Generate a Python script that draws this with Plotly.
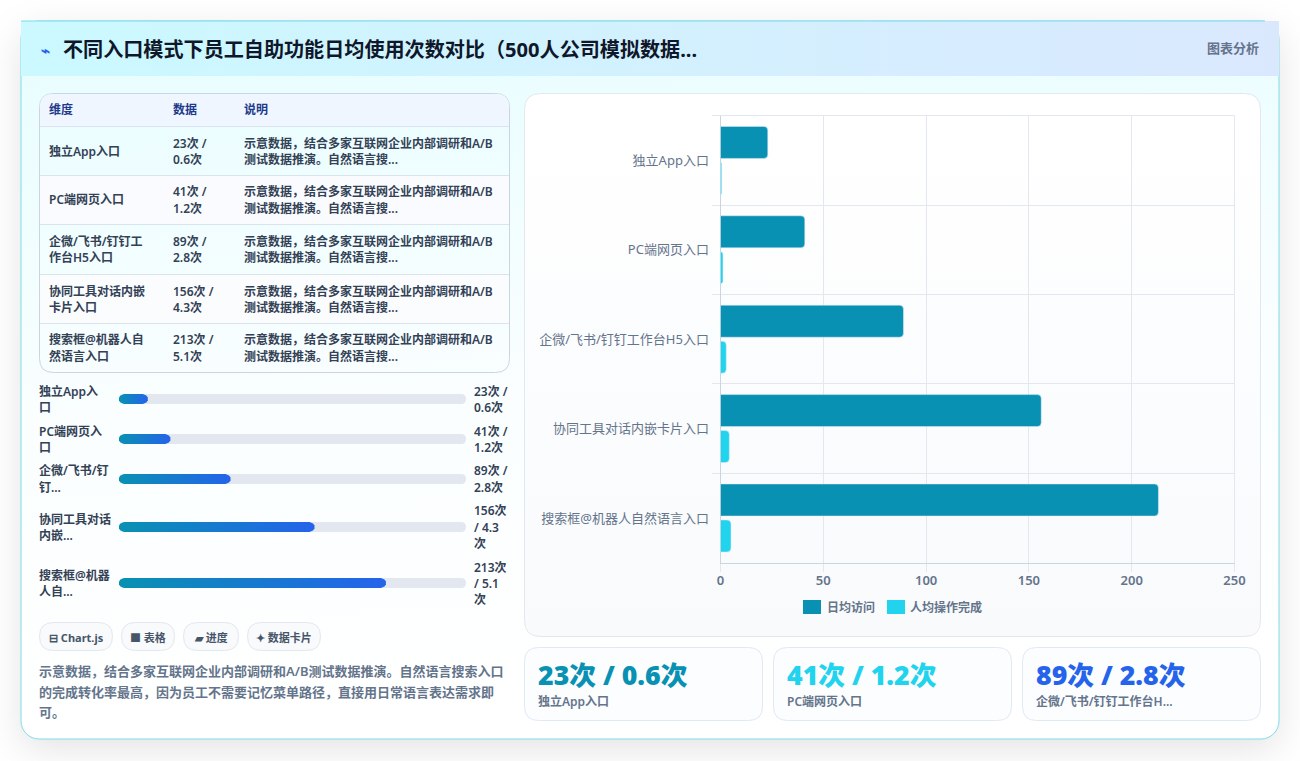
import base64
import plotly.graph_objects as go

# ---- data ----
entries = ["独立App入口", "PC端网页入口", "企微/飞书/钉钉工作台H5入口", "协同工具对话内嵌卡片入口", "搜索框@机器人自然语言入口"]
daily_visits = [23, 41, 89, 156, 213]
completed_ops = [0.6, 1.2, 2.8, 4.3, 5.1]
x_ticks = [0, 50, 100, 150, 200, 250]
series_names = ["日均访问", "人均操作完成"]

title_text = "不同入口模式下员工自助功能日均使用次数对比（500人公司模拟数据..."
badge_text = "图表分析"
table_headers = ["维度", "数据", "说明"]
table_names = [["独立App入口"], ["PC端网页入口"], ["企微/飞书/钉钉工", "作台H5入口"],
               ["协同工具对话内嵌", "卡片入口"], ["搜索框@机器人自", "然语言入口"]]
table_values = [["23次 /", "0.6次"], ["41次 /", "1.2次"], ["89次 /", "2.8次"],
                ["156次 /", "4.3次"], ["213次 /", "5.1次"]]
table_note = ["示意数据，结合多家互联网企业内部调研和A/B", "测试数据推演。自然语言搜..."]
progress_names = [["独立App入", "口"], ["PC端网页入", "口"], ["企微/飞书/钉", "钉..."],
                  ["协同工具对话", "内嵌..."], ["搜索框@机器", "人自..."]]
progress_values = [["23次 /", "0.6次"], ["41次 /", "1.2次"], ["89次 /", "2.8次"],
                   ["156次", "/ 4.3", "次"], ["213次", "/ 5.1", "次"]]
progress_max = 276.9
pill_labels = ["⊟ Chart.js", "■ 表格", "▰ 进度", "✦ 数据卡片"]
summary_lines = ["示意数据，结合多家互联网企业内部调研和A/B测试数据推演。自然语言搜索入口",
                 "的完成转化率最高，因为员工不需要记忆菜单路径，直接用日常语言表达需求即",
                 "可。"]
kpi_values = ["23次 / 0.6次", "41次 / 1.2次", "89次 / 2.8次"]
kpi_labels = ["独立App入口", "PC端网页入口", "企微/飞书/钉钉工作台H..."]

# ---- style ----
W, H = 1300, 761
FONT = "'Noto Sans', 'Noto Sans CJK SC', sans-serif"
TEAL, CYAN, BLUE = "#0891b2", "#22d3ee", "#2563eb"
SLATE = "#64748b"
DARK = "#334155"
GRID = "#e2e8f0"


def px(x):
    return x / W


def py(y):
    return 1 - y / H


def rounded(x0, y0, x1, y1, r):
    return (f"M{px(x0+r)},{py(y0)} L{px(x1-r)},{py(y0)} Q{px(x1)},{py(y0)} {px(x1)},{py(y0+r)} "
            f"L{px(x1)},{py(y1-r)} Q{px(x1)},{py(y1)} {px(x1-r)},{py(y1)} "
            f"L{px(x0+r)},{py(y1)} Q{px(x0)},{py(y1)} {px(x0)},{py(y1-r)} "
            f"L{px(x0)},{py(y0+r)} Q{px(x0)},{py(y0)} {px(x0+r)},{py(y0)} Z")


shapes, notes = [], []


def card(x0, y0, x1, y1, r, fill, line, width=1):
    shapes.append(dict(type="path", path=rounded(x0, y0, x1, y1, r), xref="paper", yref="paper",
                       fillcolor=fill, line=dict(color=line, width=width), layer="below"))


def rule(x0, y0, x1, y1, color, width=1):
    shapes.append(dict(type="line", x0=px(x0), x1=px(x1), y0=py(y0), y1=py(y1), xref="paper",
                       yref="paper", line=dict(color=color, width=width), layer="below"))


def text(x, y, s, size=12, color=DARK, weight=400, anchor="left"):
    notes.append(dict(x=px(x), y=py(y), xref="paper", yref="paper", text=s, showarrow=False,
                      xanchor=anchor, yanchor="middle", borderpad=0, borderwidth=0,
                      font=dict(family=FONT, size=size, color=color, weight=weight)))


def lines(x, cy, rows, step=16, **kw):
    top = cy - step * (len(rows) - 1) / 2
    for i, s in enumerate(rows):
        text(x, top + i * step, s, **kw)


# Page backdrop: drop shadow and the soft gradients behind the panels
backdrop = f"""<svg xmlns="http://www.w3.org/2000/svg" width="{W}" height="{H}" viewBox="0 0 {W} {H}">
<defs>
<filter id="s" x="-10%" y="-10%" width="120%" height="125%"><feGaussianBlur stdDeviation="18"/></filter>
<linearGradient id="body" x1="0" y1="0" x2="0.12" y2="1">
<stop offset="0" stop-color="#e6fdff"/><stop offset="0.55" stop-color="#fafeff"/><stop offset="1" stop-color="#ffffff"/></linearGradient>
<linearGradient id="head" x1="0" y1="0" x2="1" y2="0">
<stop offset="0" stop-color="#cbf9ff"/><stop offset="1" stop-color="#dae8fe"/></linearGradient>
<linearGradient id="panel" x1="0" y1="0" x2="0" y2="1">
<stop offset="0" stop-color="#ffffff"/><stop offset="1" stop-color="#f8fafc"/></linearGradient>
</defs>
<rect width="{W}" height="{H}" fill="#ffffff"/>
<rect x="21" y="31" width="1258" height="718" rx="18" fill="#000000" fill-opacity="0.11" filter="url(#s)"/>
<rect x="21" y="21" width="1258" height="718" rx="18" fill="url(#body)" stroke="#7fdcea" stroke-width="1"/>
<rect x="21" y="21" width="1258" height="55" fill="url(#head)"/>
<rect x="21" y="20.5" width="1244" height="1" fill="#7fdcea"/>
<rect x="524.5" y="93.5" width="736" height="543" rx="16" fill="url(#panel)"/>
</svg>"""
backdrop_uri = "data:image/svg+xml;base64," + base64.b64encode(backdrop.encode()).decode()

# Header
text(41, 50, "⌁", size=15, color=BLUE, weight=700)
text(63, 50, title_text, size=20.1, color="#0f172a", weight=700)
text(1259, 48, badge_text, size=13, color=SLATE, weight=600, anchor="right")

# Table
TABLE_COLS = (49, 173, 244)
ROW_EDGES = (126, 175, 224, 274, 323, 372)
card(39.5, 93.5, 509.5, 372.5, 14, "rgba(255,255,255,0)", "#cbd5e1")
shapes.append(dict(type="path", xref="paper", yref="paper", layer="below", fillcolor="#eff6ff",
                   line=dict(width=0),
                   path=f"M{px(40)},{py(126)} L{px(40)},{py(107)} Q{px(40)},{py(94)} {px(53)},{py(94)} "
                        f"L{px(496)},{py(94)} Q{px(509)},{py(94)} {px(509)},{py(107)} L{px(509)},{py(126)} Z"))
shapes.append(dict(type="rect", xref="paper", yref="paper", layer="below", x0=px(40), x1=px(509),
                   y0=py(175), y1=py(224), fillcolor="#f9fbfe", line=dict(width=0)))
shapes.append(dict(type="rect", xref="paper", yref="paper", layer="below", x0=px(40), x1=px(509),
                   y0=py(274), y1=py(323), fillcolor="#fafcfe", line=dict(width=0)))
for edge in ROW_EDGES[:-1]:
    rule(40, edge + 0.5, 509, edge + 0.5, "#dbe4ee")
for col, head in zip(TABLE_COLS, table_headers):
    text(col, 110, head, size=12, color="#1e3a8a", weight=600)
for i in range(len(entries)):
    cy = (ROW_EDGES[i] + ROW_EDGES[i + 1]) / 2 + 0.5
    lines(TABLE_COLS[0], cy, table_names[i], size=12, color=DARK, weight=600)
    lines(TABLE_COLS[1], cy, table_values[i], size=12, color=DARK, weight=600)
    lines(TABLE_COLS[2], cy, table_note, size=12, color=DARK, weight=600)

# Progress rows: grey track plus a gradient fill on its own pixel-scaled axes
TRACK_X0, TRACK_X1 = 119, 466
BAND_TOP, BAND_BOTTOM = 385, 605
ROW_Y = [399, 439, 479, 527, 583]
HALF = 5
data_per_px = progress_max / (TRACK_X1 - TRACK_X0)
for cy, names, vals in zip(ROW_Y, progress_names, progress_values):
    card(TRACK_X0, cy - HALF, TRACK_X1, cy + HALF, HALF, "#e3e7f0", "rgba(0,0,0,0)", 0)
    lines(39, cy, names, size=12, color=DARK, weight=600)
    lines(474, cy, vals, size=12, color=DARK, weight=600)

traces = []
for visits, cy in zip(daily_visits, ROW_Y):
    r = HALF * data_per_px
    x_shape = [r * 0.3, 0, 0, r * 0.3, r, visits - r, visits - r * 0.3, visits, visits, visits - r * 0.3, visits - r, r, r * 0.3]
    y_shape = [cy - 3.6, cy - 1.6, cy + 1.6, cy + 3.6, cy + 5, cy + 5, cy + 3.6, cy + 1.6, cy - 1.6, cy - 3.6, cy - 5, cy - 5, cy - 3.6]
    traces.append(go.Scatter(x=x_shape, y=y_shape, xaxis="x2", yaxis="y2", mode="lines", fill="toself",
                             line=dict(width=0), showlegend=False, hoverinfo="skip",
                             fillgradient=dict(type="horizontal", colorscale=[[0, TEAL], [1, BLUE]])))

# Pills
PILL_EDGES = [(39, 113), (121, 175), (183, 239), (247, 321)]
for (x0, x1), pill in zip(PILL_EDGES, pill_labels):
    card(x0 + 0.5, 622.5, x1 - 0.5, 650.5, 14, "#f8fafc", GRID)
    text((x0 + x1) / 2, 637, pill, size=11, color="#475569", weight=700, anchor="center")

# Summary paragraph
for y, line in zip((671, 691.5, 712), summary_lines):
    text(39, y, line, size=13, color=SLATE, weight=600)

# Chart panel outline and the plot frame edges that the axes leave open
card(524.5, 93.5, 1260.5, 636.5, 16, "rgba(255,255,255,0)", GRID)
rule(713, 115.5, 1234.5, 115.5, GRID)
rule(1234.5, 115.5, 1234.5, 570, GRID)

# KPI cards
KPI_LEFT = (524, 773, 1022)
for x0, value, label, color in zip(KPI_LEFT, kpi_values, kpi_labels, (TEAL, CYAN, BLUE)):
    card(x0 + 0.5, 647.5, x0 + 238.5, 720.5, 14, "#fbfdff", "#e1e9f5")
    text(x0 + 14, 674, value, size=26.7, color=color, weight=900)
    text(x0 + 14, 701, label, size=12, color=SLATE, weight=600)

# Legend row under the bars
for (sw_x, txt_x), name, color in zip(((803, 827), (887, 910)), series_names, (TEAL, CYAN)):
    shapes.append(dict(type="rect", xref="paper", yref="paper", layer="above", x0=px(sw_x), x1=px(sw_x + 18),
                       y0=py(600), y1=py(614), fillcolor=color, line=dict(width=0)))
    text(txt_x, 607, name, size=12, color=SLATE, weight=600)

# Grouped horizontal bars
traces.append(go.Bar(y=entries, x=daily_visits, name=series_names[0], orientation="h", showlegend=False,
                     marker=dict(color=TEAL, cornerradius=4), hovertemplate="%{y}: %{x}<extra></extra>"))
traces.append(go.Bar(y=entries, x=completed_ops, name=series_names[1], orientation="h", showlegend=False,
                     marker=dict(color=CYAN, cornerradius=4), hovertemplate="%{y}: %{x}<extra></extra>"))

fig = go.Figure(traces)
fig.update_layout(
    width=W, height=H, autosize=False, margin=dict(l=0, r=0, t=0, b=0, autoexpand=False),
    showlegend=False,
    paper_bgcolor="rgba(0,0,0,0)", plot_bgcolor="rgba(0,0,0,0)",
    font=dict(family=FONT, size=12, color=SLATE),
    barmode="group", bargap=0.195, bargroupgap=0.11,
    images=[dict(source=backdrop_uri, xref="paper", yref="paper", x=0, y=1, sizex=1, sizey=1,
                 sizing="stretch", layer="below", xanchor="left", yanchor="top")],
    shapes=shapes, annotations=notes,
    xaxis=dict(domain=[px(720.5), px(1234.5)], range=[0, 250], tickvals=x_ticks, anchor="y",
               showgrid=True, gridcolor=GRID, gridwidth=1, zeroline=False, showline=True,
               linecolor="#cbd5e1", ticks="outside", ticklen=8, tickcolor=GRID, layer="below traces",
               ticklabelstandoff=-2, tickfont=dict(family=FONT, size=13, color=SLATE, weight=600)),
    yaxis=dict(domain=[py(562.7), py(115.7)], autorange="reversed", type="category", anchor="x",
               tickson="boundaries", showgrid=True, gridcolor=GRID, showline=True,
               linecolor="#cbd5e1", ticks="outside", ticklen=8, tickcolor=GRID, layer="below traces",
               ticklabelstandoff=8, tickfont=dict(family=FONT, size=13, color=SLATE)),
    xaxis2=dict(domain=[px(TRACK_X0), px(TRACK_X1)], range=[0, progress_max], visible=False, anchor="y2"),
    yaxis2=dict(domain=[py(BAND_BOTTOM), py(BAND_TOP)], range=[BAND_BOTTOM, BAND_TOP], visible=False, anchor="x2"),
)

fig.write_html("out.html", config=dict(displayModeBar=False),
               post_script="document.body.style.margin='0';")
